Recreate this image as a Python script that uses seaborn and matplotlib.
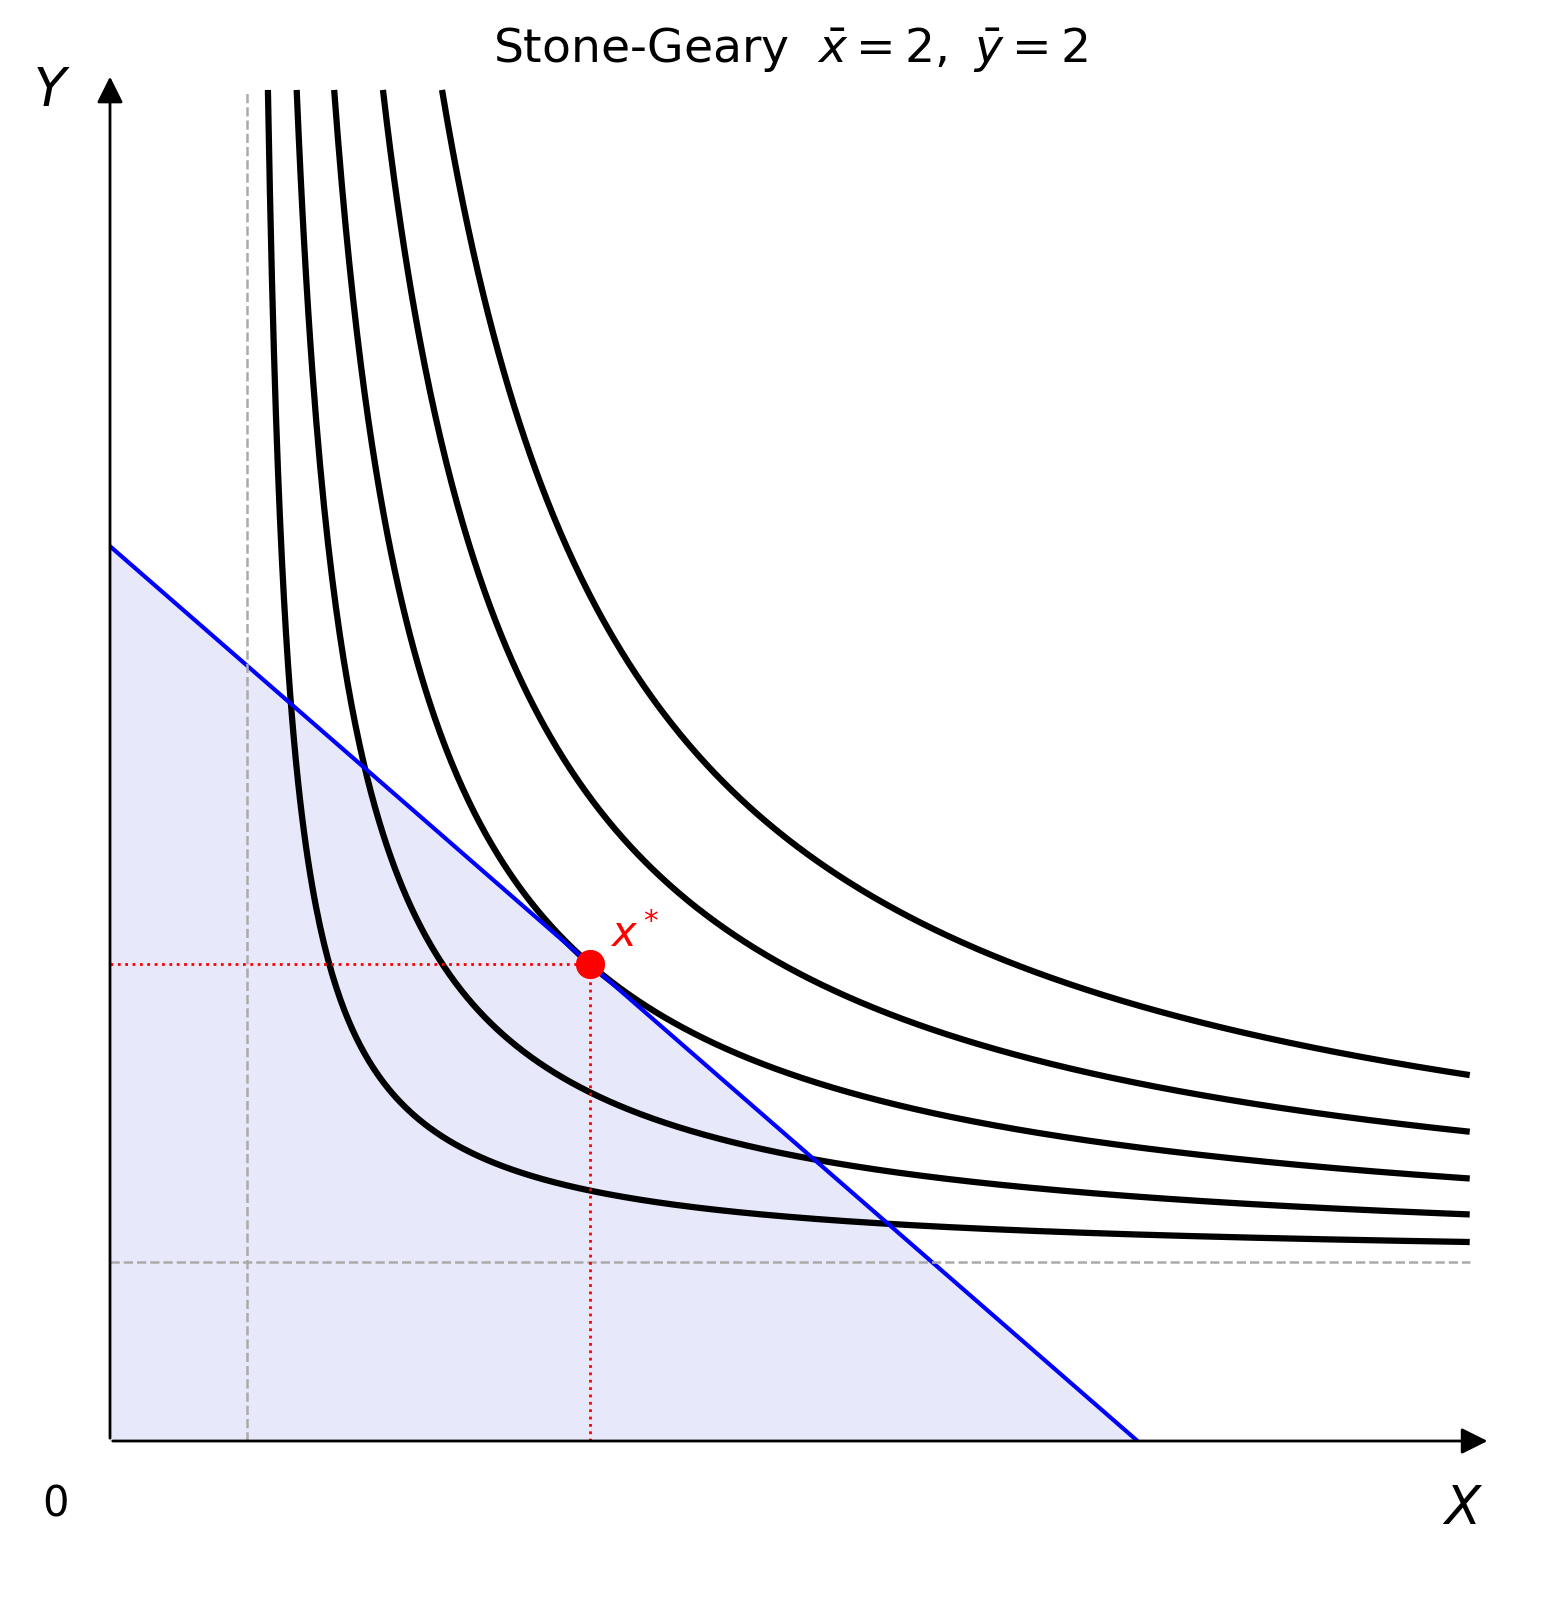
import numpy as np
import pandas as pd
import matplotlib
matplotlib.use("Agg")
import matplotlib.pyplot as plt
import seaborn as sns

sns.set_style("white")
plt.rcParams['font.family'] = ['DejaVu Sans']
plt.rcParams['text.color'] = 'black'

x_bar, y_bar = 2.0, 2.0
income, px, py = 10.0, 2/3, 1.0
levels = [4.0, 9.5, 16.67, 26.0, 37.3]   # (x-x̄)(y-ȳ) levels
x_opt, y_opt = 7.0, 16/3.0
x_max, y_top = 19.85, 15.1

fig = plt.figure(figsize=(15.61, 16.08), dpi=100)
ax = fig.add_axes([110/1561, 166/1608, 1370/1561, 1360/1608])
ax.set_xlim(0, 20)
ax.set_ylim(0, 15.2)

rows = []
for i, c in enumerate(levels):
    xs = np.linspace(x_bar + c/(y_top - y_bar), x_max, 600)
    for xv in xs:
        rows.append({"x": xv, "y": y_bar + c/(xv - x_bar), "lvl": i})
df = pd.DataFrame(rows)
sns.lineplot(data=df, x="x", y="y", units="lvl", estimator=None, color="black",
             lw=4.5, ax=ax, sort=False, solid_capstyle="butt")

bx = np.array([0, income/px])
by = (income - px*bx)/py
ax.fill_between(bx, by, 0, color="#e8e8fb", zorder=0)
sns.lineplot(x=bx, y=by, color="blue", lw=3, ax=ax)

ax.plot([x_bar, x_bar], [0, y_top], ls="--", color="#aaaaaa", lw=1.8)
ax.plot([0, x_max], [y_bar, y_bar], ls="--", color="#aaaaaa", lw=1.8)
ax.plot([0, x_opt], [y_opt, y_opt], ls=":", color="red", lw=2)
ax.plot([x_opt, x_opt], [0, y_opt], ls=":", color="red", lw=2)
ax.scatter([x_opt], [y_opt], s=400, color="red", zorder=5)
ax.text(x_opt+0.3, y_opt+0.2, r"$x^*$", color="red", fontsize=30)

for s in ax.spines.values():
    s.set_visible(False)
ax.set_xticks([]); ax.set_yticks([])
ax.set_xlabel(""); ax.set_ylabel("")
ax.annotate("", xy=(20.15, 0), xytext=(0, 0), annotation_clip=False,
            arrowprops=dict(arrowstyle="-|>,head_length=1.6,head_width=0.8", color="black", lw=2))
ax.annotate("", xy=(0, 15.2 + 0.08), xytext=(0, 0), annotation_clip=False,
            arrowprops=dict(arrowstyle="-|>,head_length=1.6,head_width=0.8", color="black", lw=2))
ax.text(-0.8, -0.7, "0", fontsize=30, ha="center", va="center")
ax.text(19.75, -0.75, r"$X$", fontsize=38, ha="center", va="center")
ax.text(-0.85, 15.1, r"$Y$", fontsize=38, ha="center", va="center")
fig.text(790/1561, 1-50/1608, r"Stone-Geary  $\bar{x} = 2,\ \bar{y} = 2$", fontsize=34,
         ha="center", va="center")
fig.savefig("out.png", dpi=100)
